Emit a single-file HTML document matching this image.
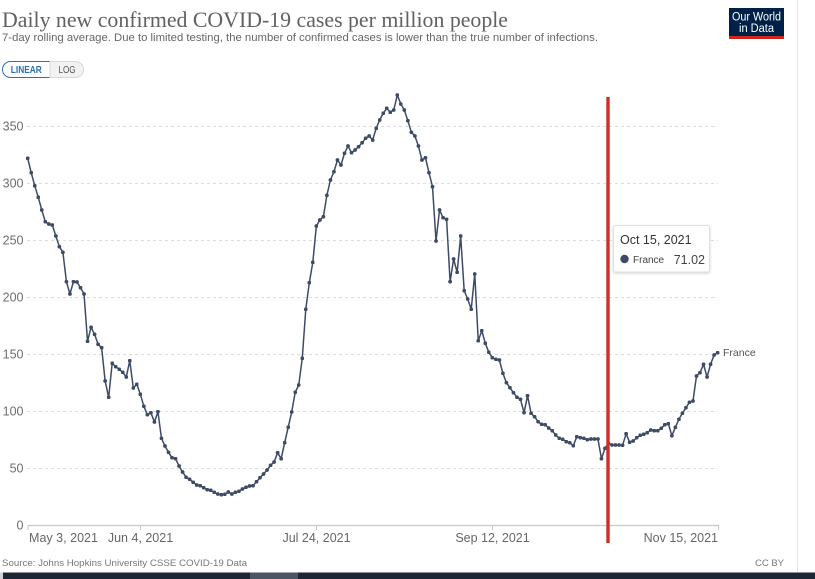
<!DOCTYPE html>
<html>
<head>
<meta charset="utf-8">
<style>
html,body{margin:0;padding:0;background:#fff;}
body{width:815px;height:579px;overflow:hidden;}
svg{display:block;}
text{font-family:"Liberation Sans",sans-serif;}
</style>
</head>
<body>
<svg width="815" height="579" viewBox="0 0 815 579" xmlns="http://www.w3.org/2000/svg">
<defs>
<marker id="dot" viewBox="0 0 4 4" refX="2" refY="2" markerWidth="3.8" markerHeight="3.8" markerUnits="userSpaceOnUse">
<circle cx="2" cy="2" r="2" fill="#3d4b66"/>
</marker>
<filter id="sh" x="-10%" y="-10%" width="130%" height="140%">
<feDropShadow dx="0" dy="1" stdDeviation="1.2" flood-color="#000" flood-opacity="0.18"/>
</filter>
</defs>
<rect width="815" height="579" fill="#fff"/>

<!-- Title -->
<text x="2" y="27" font-size="22" fill="#616161" textLength="506" lengthAdjust="spacingAndGlyphs" style="font-family:'Liberation Serif',serif">Daily new confirmed COVID-19 cases per million people</text>
<text x="2" y="41" font-size="11" fill="#666" textLength="596" lengthAdjust="spacingAndGlyphs">7-day rolling average. Due to limited testing, the number of confirmed cases is lower than the true number of infections.</text>

<!-- Logo -->
<rect x="729" y="8" width="55" height="28" fill="#002147"/>
<rect x="729" y="36" width="55" height="3" fill="#ce261e"/>
<text x="756.5" y="20.5" font-size="11.5" fill="#fff" text-anchor="middle" textLength="49" lengthAdjust="spacingAndGlyphs">Our World</text>
<text x="756.5" y="32" font-size="11.5" fill="#fff" text-anchor="middle" textLength="35" lengthAdjust="spacingAndGlyphs">in Data</text>

<!-- right border -->
<line x1="797.5" y1="0" x2="797.5" y2="572" stroke="#e6e6e6" stroke-width="1"/>

<!-- Buttons -->
<path d="M50,61.5 H10.5 A8,8 0 0 0 2.5,69.5 A8,8 0 0 0 10.5,77.5 H50 Z" fill="#fff" stroke="#2d6fae" stroke-width="1"/>
<path d="M50,61.5 H75.5 A8,8 0 0 1 83.5,69.5 A8,8 0 0 1 75.5,77.5 H50 Z" fill="#f2f2f2" stroke="#d8d8d8" stroke-width="1"/>
<text x="26.3" y="73.2" font-size="10" font-weight="bold" fill="#2d6fae" text-anchor="middle" textLength="31" lengthAdjust="spacingAndGlyphs">LINEAR</text>
<text x="67" y="73.2" font-size="10" fill="#555" text-anchor="middle" textLength="17" lengthAdjust="spacingAndGlyphs">LOG</text>

<!-- Gridlines -->
<g stroke="#dcdcdc" stroke-width="1" stroke-dasharray="3,3">
<line x1="27" y1="468.5" x2="718" y2="468.5"/>
<line x1="27" y1="411.5" x2="718" y2="411.5"/>
<line x1="27" y1="354.5" x2="718" y2="354.5"/>
<line x1="27" y1="297.5" x2="718" y2="297.5"/>
<line x1="27" y1="240.5" x2="718" y2="240.5"/>
<line x1="27" y1="183.5" x2="718" y2="183.5"/>
<line x1="27" y1="126.5" x2="718" y2="126.5"/>
</g>

<!-- Y labels -->
<g font-size="12.5" fill="#6e6e6e" text-anchor="end">
<text x="23.5" y="529.5">0</text>
<text x="23.5" y="472.5">50</text>
<text x="23.5" y="415.5">100</text>
<text x="23.5" y="358.5">150</text>
<text x="23.5" y="301.5">200</text>
<text x="23.5" y="244.5">250</text>
<text x="23.5" y="187.5">300</text>
<text x="23.5" y="130.5">350</text>
</g>

<!-- X axis -->
<line x1="27.5" y1="525.5" x2="719" y2="525.5" stroke="#c8c8c8" stroke-width="1.2"/>
<g stroke="#c8c8c8" stroke-width="1">
<line x1="28" y1="525" x2="28" y2="530"/>
<line x1="140.5" y1="525" x2="140.5" y2="530"/>
<line x1="316.5" y1="525" x2="316.5" y2="530"/>
<line x1="492.5" y1="525" x2="492.5" y2="530"/>
<line x1="718.5" y1="525" x2="718.5" y2="530"/>
</g>
<g font-size="12.5" fill="#666">
<text x="29" y="542" textLength="69" lengthAdjust="spacingAndGlyphs">May 3, 2021</text>
<text x="140.5" y="542" text-anchor="middle">Jun 4, 2021</text>
<text x="316.5" y="542" text-anchor="middle">Jul 24, 2021</text>
<text x="492.5" y="542" text-anchor="middle">Sep 12, 2021</text>
<text x="718" y="542" text-anchor="end">Nov 15, 2021</text>
</g>

<!-- Series -->
<polyline fill="none" stroke="#3d4b66" stroke-width="1.5" stroke-linejoin="round" marker-start="url(#dot)" marker-mid="url(#dot)" marker-end="url(#dot)" points="
27.7,158.3 31.22,172.7 34.74,185.7 38.26,197.3 41.78,210 45.30,221.7 48.82,224 52.34,225 55.86,236 59.38,246.7
62.90,252.3 66.42,281.7 69.94,294 73.46,281.7 76.98,282 80.50,287.7 84.02,294 87.54,341.3 91.06,327.3 94.58,334.3
98.10,344.3 101.62,347.7 105.14,381 108.66,397.3 112.18,363.3 115.70,366.7 119.22,369.3 122.74,372.3 126.26,377 129.78,360.7
133.30,388 136.82,384.3 140.34,394.3 143.86,406.3 147.38,414.7 150.90,412.7 154.42,422 157.94,411.7 161.46,438.3 164.98,446
168.50,452.3 172.02,457.7 175.54,458.7 179.06,466 182.58,472 186.10,477.3 189.62,479.3 193.14,482.3 196.66,485 200.18,485.7
203.70,487.7 207.22,489.7 210.74,490.3 214.26,492.3 217.78,494 221.30,494.7 224.82,494.3 228.34,492 231.86,494 235.38,492.3
238.90,491.3 242.42,489 245.94,487.3 249.46,486 252.98,485.7 256.50,481.7 260.02,477.7 263.54,474 267.06,470 270.58,465.3
274.10,462 277.62,452.7 281.14,458.7 284.66,442.7 288.18,427.3 291.70,412 295.22,392.3 298.74,385 302.26,358.3 305.78,309.3
309.30,282.7 312.82,262.3 316.34,226 319.86,220 323.38,216.7 326.90,195.3 330.42,180 333.94,171.7 337.46,160 340.98,165
344.50,153.3 348.02,146 351.54,152.7 355.06,150 358.58,146.7 362.10,142.7 365.62,138.3 369.14,136 372.66,140 376.18,128.3
379.70,120 383.22,113.3 386.74,108.3 390.26,112.3 393.78,110 397.30,95 400.82,104 404.34,110 407.86,120.7 411.38,132.3
414.90,136 418.42,146 421.94,160 425.46,157.7 428.98,172.7 432.50,186.7 436.02,241 439.54,210 443.06,217.7 446.58,219.3
450.10,281.7 453.62,259 457.14,272.3 460.66,236 464.18,290.7 467.70,299 471.22,309.3 474.74,274 478.26,340.7 481.78,330.7
485.30,343.3 488.82,352.3 492.34,357.7 495.86,359.3 499.38,360 502.90,373.3 506.42,382.7 509.94,387.7 513.46,392.7 516.98,397.3
520.50,399.3 524.02,412.7 527.54,395.7 531.06,413.3 534.58,416.7 538.10,421.7 541.62,424.3 545.14,424.7 548.66,428 552.18,430.7
555.70,435 559.22,438.3 562.74,439.3 566.26,441.7 569.78,442.7 573.30,445.7 576.82,436.7 580.34,437.7 583.86,438.3 587.38,439.7
590.90,439 594.42,439 597.94,439 601.46,458.7 604.98,448.3 608.50,443.3 612.02,445 615.54,445 619.06,445 622.58,445.3
626.10,433.7 629.62,442.3 633.14,441 636.66,437.7 640.18,435.3 643.70,434.3 647.22,432.7 650.74,430 654.26,430.7 657.78,430.7
661.30,428.3 664.82,424.7 668.34,423.7 671.86,435.7 675.38,427.3 678.90,419.3 682.42,413.3 685.94,407.7 689.46,402.3 692.98,401
696.50,376 700.02,372.7 703.54,364.3 707.06,377 710.58,364.3 714.10,355 717.62,352.7"/>

<text x="723" y="356" font-size="10.5" fill="#555">France</text>

<!-- Red line -->
<line x1="608" y1="97" x2="608" y2="543" stroke="#d42a2a" stroke-width="3.4"/>

<!-- Tooltip -->
<rect x="613.5" y="225.5" width="96" height="46.5" rx="2" fill="#fff" stroke="#e0e0e0" stroke-width="1" filter="url(#sh)"/>
<text x="620" y="244" font-size="12.5" fill="#333">Oct 15, 2021</text>
<circle cx="624.5" cy="259" r="4.2" fill="#3d4b66"/>
<text x="633" y="263" font-size="10" fill="#444">France</text>
<text x="705" y="264" font-size="12.5" fill="#444" text-anchor="end">71.02</text>

<!-- Footer -->
<text x="2" y="566" font-size="9.5" fill="#777" textLength="245" lengthAdjust="spacingAndGlyphs">Source: Johns Hopkins University CSSE COVID-19 Data</text>
<text x="784" y="566" font-size="9.5" fill="#777" text-anchor="end">CC BY</text>

<rect x="0" y="572.5" width="815" height="6.5" fill="#1c2634"/>
<rect x="0" y="572.5" width="3" height="6.5" fill="#cfd3d8"/>
<rect x="250" y="572.5" width="48" height="6.5" fill="#4b5563"/>
</svg>
</body>
</html>
